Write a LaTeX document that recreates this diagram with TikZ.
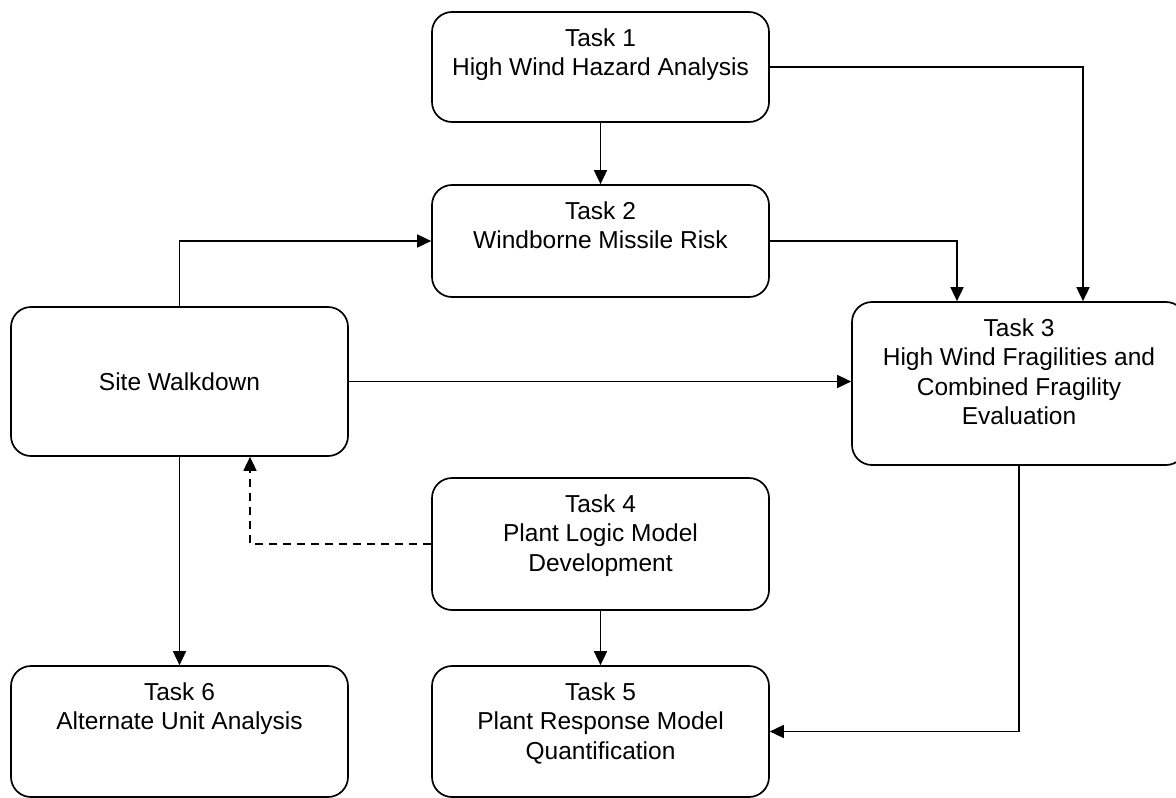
\documentclass[tikz,border=0pt]{standalone}
\usepackage{fontspec}
\setmainfont{Liberation Sans}
\usetikzlibrary{arrows.meta,calc}
\newcommand\topbox[3]{\begin{minipage}[c][#2][t]{#1}\centering\rule{0pt}{34pt}#3\end{minipage}}
\tikzset{
  taskbox/.style={draw=black, line width=1.7pt, rounded corners=20pt, inner sep=0pt, fill=white,
    font=\fontsize{24.5}{29.5}\selectfont},
  arr/.style={line width=1.7pt, -{Triangle[length=14pt,width=13pt]}},
  dasharr/.style={arr, dash pattern=on 8pt off 6pt}
}
\begin{document}
\begin{tikzpicture}[x=1pt,y=-1pt]
\useasboundingbox[fill=white] (0,0) rectangle (1176,798);
\node[taskbox] (t1) at (600.5,67) {\topbox{337pt}{110pt}{Task 1\\High Wind Hazard Analysis}};
\node[taskbox] (t2) at (600.5,241) {\topbox{337pt}{112pt}{Task 2\\Windborne Missile Risk}};
\node[taskbox, minimum width=337pt, minimum height=149pt] (sw) at (179.5,381.5) {Site Walkdown};
\node[taskbox] (t3) at (1019,383.5) {\topbox{334pt}{163pt}{Task 3\\High Wind Fragilities and\\Combined Fragility\\Evaluation}};
\node[taskbox] (t4) at (600.5,544) {\topbox{337pt}{132pt}{Task 4\\Plant Logic Model\\Development}};
\node[taskbox] (t5) at (600.5,731.5) {\topbox{337pt}{131pt}{Task 5\\Plant Response Model\\Quantification}};
\node[taskbox] (t6) at (179.5,731.5) {\topbox{337pt}{131pt}{Task 6\\Alternate Unit Analysis}};

\draw[arr] (t1.south) -- (t2.north);
\draw[arr] (t1.east) -| ([xshift=64pt]t3.north);
\draw[arr] (t2.east) -| ([xshift=-62pt]t3.north);
\draw[arr] (sw.north) |- (t2.west);
\draw[arr] (sw.east) -- (sw.east -| t3.west);
\draw[dasharr] (t4.west) -| ([xshift=70.5pt]sw.south);
\draw[arr] (sw.south) -- (t6.north);
\draw[arr] (t4.south) -- (t5.north);
\draw[arr] (t3.south) |- (t5.east);
\end{tikzpicture}
\end{document}
